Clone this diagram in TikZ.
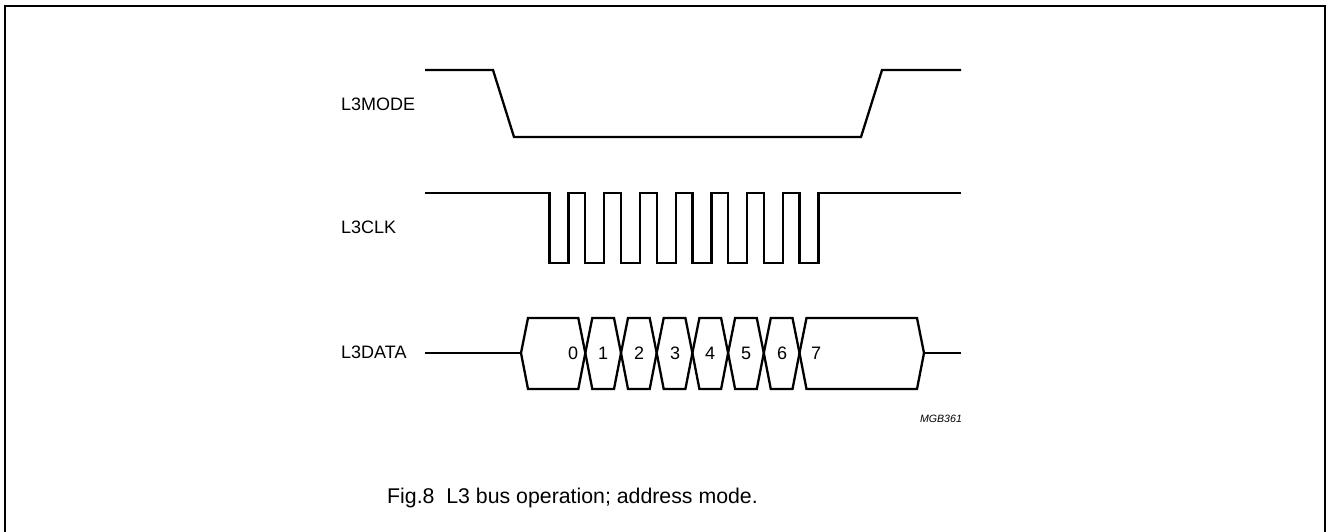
\documentclass[tikz,border=0pt]{standalone}
\usepackage{fontspec}
\setmainfont{Liberation Sans}
\begin{document}
\begin{tikzpicture}[x=1pt,y=-1pt,
  wave/.style={line width=2.3pt,line join=miter,line cap=butt},
  frame/.style={line width=2pt},
  sig/.style={anchor=west,inner sep=0pt,font=\fontsize{18}{20}\selectfont},
  bit/.style={inner sep=0pt,font=\fontsize{18}{20}\selectfont},
  code/.style={inner sep=0pt,font=\fontsize{10.6}{12}\selectfont\itshape},
  captext/.style={inner sep=0pt,font=\fontsize{21.3}{24}\selectfont}]
\useasboundingbox (0,0) rectangle (1326,532);
% frame (open at the bottom)
\draw[frame] (5,540) -- (5,6) -- (1324.5,6) -- (1324.5,540);
% signal names
\node[sig] (nmode) at (341,104) {L3MODE};
\node[sig] (nclk) at (341,227) {L3CLK};
\node[sig] (ndata) at (341,352) {L3DATA};
% L3MODE
\draw[wave] (425,70) -- (493,70) -- (514,137) -- (861,137) -- (882,70) -- (961,70);
% L3CLK
\draw[wave] (425,193)
  \foreach \i in {0,...,7} {
    -- ({549.6+35.7*\i},193) -- ({549.6+35.7*\i},263)
    -- ({568.6+35.7*\i},263) -- ({568.6+35.7*\i},193)
  } -- (961,193);
% L3DATA
\draw[wave] (425,353) -- (521,353);
\draw[wave] (924,353) -- (961,353);
\foreach \a/\b in {521/585.3,585.3/621,621/656.7,656.7/692.4,692.4/728.1,728.1/763.8,763.8/799.5,799.5/924}{
  \draw[wave] (\a,353) -- (\a+7,318) -- (\b-7,318) -- (\b,353) -- (\b-7,389) -- (\a+7,389) -- cycle;
}
\foreach \x/\t in {573/0,603/1,639/2,675/3,710/4,746/5,782/6,816/7}{
  \node[bit] (b\t) at (\x,353) {\t};
}
\node[code] (mgb) at (941,419) {MGB361};
\node[captext] (caption) at (572.5,498) {Fig.8\ \ L3 bus operation; address mode.};
\end{tikzpicture}
\end{document}
